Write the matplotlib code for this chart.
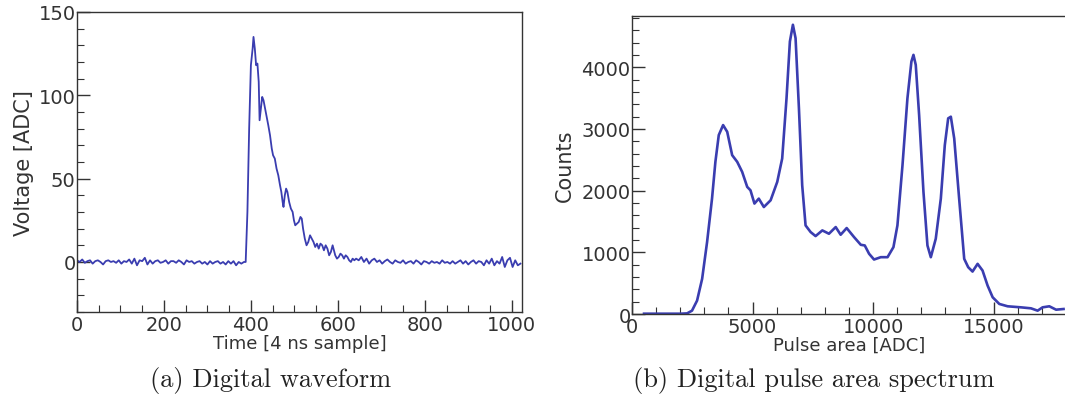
import matplotlib.pyplot as plt
import numpy as np
from matplotlib.ticker import MultipleLocator

# ---- waveform data (samples of 4 ns) ----
pre_step = 6
pre_vals = [1, 0, 1.5, -0.5, 0.5, 1, -1, 0.5, 1, 0, -1.5, 0.5, 1, 0, 0.5, -0.5,
            1, -1, 0.5, 0, 1.5, -1, 2, -2, 1, 0.5, 2.5, -1.5, 1, -1, 0.5, 1,
            -0.5, 0, 1, -1, 0.5, 0.5, -0.5, 1, 0, -1.5, 1, 0, 0.5, -1, 0, 0.5,
            -1, 0, -1.5, 0.5, -1, 0, 0.5, -1, 0, -1.5, 0.5, -1, 0.5, -2, 0, -1, 0]

pulse_t = [388, 392, 396, 400, 404, 406, 409, 412, 415, 418, 420, 423, 426, 429,
           432, 436, 440, 444, 448, 451, 455, 459, 463, 467, 470, 473, 475, 478,
           481, 484, 488, 492, 496, 499, 502, 506, 510, 514, 517, 520, 524, 528,
           532, 536, 540, 544, 548, 552, 556, 560, 564, 568, 572, 576, 580, 584,
           588, 591, 594, 598, 602, 606, 610, 614, 618, 622, 626, 630, 634, 638]
pulse_v = [0, 30, 80, 118, 128, 135, 128, 118, 119, 108, 85, 92, 99, 97,
           93, 88, 82, 76, 68, 64, 62, 56, 52, 46, 42, 36, 33, 40,
           44, 42, 36, 32, 30, 25, 22, 23, 24, 27, 26, 20, 14, 10,
           12, 16, 14, 12, 9, 11, 8, 11, 10, 7, 10, 8, 4, 6,
           10, 7, 4, 2, 3, 5, 4, 2, 4, 3, 1, 0, 2, 1]

post_start = 642
post_vals = [2, 1, 3, 0, 2, -1, 1, 2, 0, 1, -1, 0.5, 1.5, 0, -1, 1, 0, -0.5, 1, -1,
             0, 0.5, -1, 1, 0, -1.5, 0.5, 0, -1, 0.5, -0.5, 0, -1, 1, -0.5, 0, -1,
             0.5, -1, 0, 1, -1, 0.5, -1.5, 0, 1, -1, 0.5, 0, -2, 1, -1, 2, -2, 0.5,
             -1, 3, -3, 1, 2.5, -3, 1, -2, -1]

# ---- pulse area spectrum ----
area = [500, 1000, 1500, 2000, 2285, 2490, 2700, 2910, 3115, 3320, 3460, 3600,
        3780, 3950, 4155, 4365, 4570, 4780, 4915, 5080, 5260, 5470, 5750, 6025,
        6230, 6410, 6550, 6675, 6785, 6925, 7060, 7200, 7410, 7615, 7895, 8170,
        8450, 8655, 8905, 9210, 9490, 9655, 9835, 10040, 10320, 10600, 10845,
        11010, 11220, 11425, 11590, 11675, 11770, 11910, 12090, 12255, 12395,
        12600, 12810, 12975, 13115, 13225, 13365, 13570, 13780, 13945, 14125,
        14335, 14540, 14750, 14960, 15235, 15580, 16135, 16550, 16825, 17030,
        17310, 17590, 17900]
counts = [5, 5, 5, 5, 10, 54, 217, 570, 1165, 1870, 2466, 2900,
          3062, 2953, 2575, 2466, 2304, 2060, 2005, 1790, 1870, 1734, 1843, 2141,
          2520, 3496, 4417, 4688, 4471, 3333, 2087, 1436, 1328, 1263, 1355, 1301,
          1409, 1285, 1393, 1247, 1122, 1111, 976, 883, 921, 921, 1084,
          1436, 2411, 3496, 4092, 4200, 4038, 3225, 1978, 1111, 921,
          1220, 1870, 2737, 3171, 3198, 2846, 1870, 894, 759, 688,
          813, 705, 461, 271, 163, 125, 108, 92, 54, 108,
          125, 70, 81]

time = np.concatenate([np.arange(len(pre_vals)) * pre_step, pulse_t,
                       post_start + np.arange(len(post_vals)) * pre_step])
volt = np.concatenate([pre_vals, pulse_v, post_vals])

line_color = '#3a3db0'
axis_color = '#333333'

fig = plt.figure(figsize=(10.65, 4.1), dpi=100)
ax1 = fig.add_axes([0.0723, 0.2366, 0.418, 0.732])
ax2 = fig.add_axes([0.5934, 0.2317, 0.4075, 0.7268])

def root_style(ax):
    for side in ['left', 'bottom', 'top', 'right']:
        ax.spines[side].set_color(axis_color)
        ax.spines[side].set_linewidth(1.0)
    ax.tick_params(which='both', direction='in', top=False, right=False,
                   colors=axis_color, labelsize=14)
    ax.tick_params(which='major', length=9, width=1)
    ax.tick_params(which='minor', length=5, width=0.8)
    ax.tick_params(axis='y', pad=1)
    ax.tick_params(axis='x', pad=2)

# ============= (a) waveform =============
ax1.plot(time, volt, color=line_color, linewidth=1.3)
ax1.set_xlim(0, 1024)
ax1.set_ylim(-30, 150)
ax1.xaxis.set_major_locator(MultipleLocator(200))
ax1.xaxis.set_minor_locator(MultipleLocator(50))
ax1.yaxis.set_major_locator(MultipleLocator(50))
ax1.yaxis.set_minor_locator(MultipleLocator(10))
root_style(ax1)
ax1.set_xlabel('Time [4 ns sample]', fontsize=13, color=axis_color, labelpad=0)
ax1.set_ylabel('Voltage [ADC]', fontsize=15, color=axis_color, labelpad=3)

# ============= (b) spectrum =============
ax2.plot(area, counts, color=line_color, linewidth=1.9)
ax2.set_xlim(0, 18000)
ax2.set_ylim(0, 4830)
ax2.xaxis.set_major_locator(MultipleLocator(5000))
ax2.xaxis.set_minor_locator(MultipleLocator(1000))
ax2.yaxis.set_major_locator(MultipleLocator(1000))
ax2.yaxis.set_minor_locator(MultipleLocator(200))
root_style(ax2)
ax2.set_xlabel('Pulse area [ADC]', fontsize=13, color=axis_color, labelpad=0)
ax2.set_ylabel('Counts', fontsize=15, color=axis_color, labelpad=5)

# captions
fig.text(0.254, 0.073, '(a) Digital waveform', family='cmr10', fontsize=19,
         ha='center', va='center', color='#222222')
fig.text(0.764, 0.073, '(b) Digital pulse area spectrum', family='cmr10', fontsize=19,
         ha='center', va='center', color='#222222')

plt.savefig('out.png', dpi=100)
